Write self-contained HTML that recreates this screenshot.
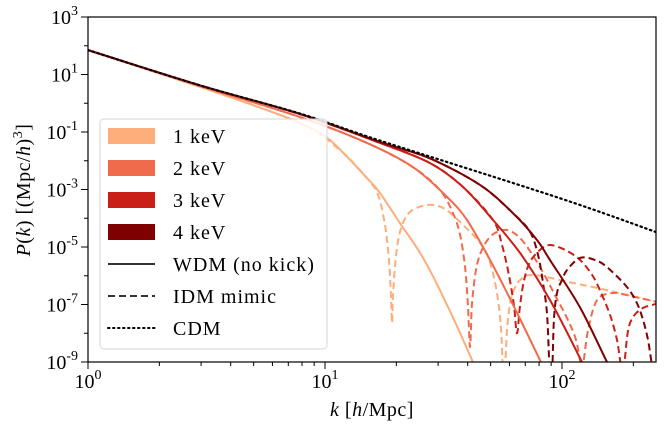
<!DOCTYPE html>
<html><head><meta charset="utf-8">
<style>
html,body{margin:0;padding:0;background:#fff;}
svg{display:block;font-family:"Liberation Serif",serif;}
</style></head>
<body>
<svg id="chart" width="665" height="429" viewBox="0 0 665 429">
<defs><clipPath id="plotclip"><rect x="88" y="17" width="568" height="345"/></clipPath></defs>
<g id="series" clip-path="url(#plotclip)"></g>
<rect x="88" y="17" width="568" height="345" fill="none" stroke="#000" stroke-width="1.2"/>
<g id="axes"></g>
<text x="372" y="416" text-anchor="middle" font-size="20" letter-spacing="0.5"><tspan font-style="italic">k</tspan> [<tspan font-style="italic">h</tspan>/Mpc]</text>
<text transform="translate(30,190) rotate(-90)" text-anchor="middle" font-size="20" letter-spacing="0.5"><tspan font-style="italic">P</tspan>(<tspan font-style="italic">k</tspan>) [(Mpc/<tspan font-style="italic">h</tspan>)<tspan font-size="14" dy="-8">3</tspan><tspan dy="8">]</tspan></text>
<g id="legend">
<rect x="100" y="119" width="227" height="230" rx="4" fill="#fff" fill-opacity="0.85" stroke="#d6d6d6" stroke-width="1"/>
</g>
</svg>
<script>
// data in log10 units: logK (h/Mpc), logP
const cdmK=[0,0.473,0.895,1.232,1.99,2.397];
const cdmP=[1.85,0.62,-0.36,-1.30,-3.30,-4.48];
const w1K=[0,0.473,0.684,0.895,1.021,1.177,1.232,1.316,1.414,1.52,1.624,1.7];
const w1P=[1.85,0.57,-0.03,-0.69,-1.28,-2.60,-3.12,-4.17,-5.38,-7.1,-9.0,-10.5];
const w2K=[0,0.473,0.895,1.177,1.371,1.515,1.599,1.696,1.793,1.911,2.0];
const w2P=[1.85,0.60,-0.48,-1.38,-2.22,-3.26,-4.06,-5.45,-7.0,-9.0,-10.5];
const w3K=[0,0.473,0.895,1.232,1.443,1.582,1.709,1.823,1.95,2.084,2.15];
const w3P=[1.85,0.62,-0.38,-1.38,-2.08,-2.91,-4.06,-5.21,-6.85,-9.0,-10.2];
const w4K=[0,0.473,0.895,1.232,1.443,1.654,1.793,1.895,1.949,2.076,2.19,2.25];
const w4P=[1.85,0.62,-0.37,-1.35,-1.92,-2.84,-3.82,-4.76,-5.45,-7.1,-9.0,-9.9];
const i1K=[0,0.473,0.895,1.063,1.177,1.224,1.253,1.270,1.278,1.283,1.287,1.300,1.321,1.359,1.430,1.498,1.570,1.667,1.705,1.730,1.743,1.751,1.759,1.768,1.781,1.797,1.823,1.878,2.046,2.190,2.397];
const i1P=[1.85,0.57,-0.69,-1.63,-2.60,-3.19,-4.23,-5.45,-6.67,-7.64,-6.67,-5.28,-4.34,-3.78,-3.54,-3.64,-4.13,-5.00,-5.80,-6.84,-7.89,-9.28,-9.28,-7.89,-6.95,-6.50,-6.15,-5.97,-6.25,-6.50,-6.91];
const i2K=[0,0.473,0.895,1.177,1.371,1.485,1.540,1.570,1.591,1.603,1.612,1.620,1.637,1.662,1.705,1.768,1.831,1.907,1.970,2.025,2.059,2.080,2.089,2.110,2.148,2.215,2.287,2.401];
const i2P=[1.85,0.60,-0.48,-1.38,-2.22,-3.02,-3.82,-4.58,-5.70,-7.02,-8.48,-7.02,-5.80,-5.10,-4.58,-4.41,-4.76,-5.70,-6.67,-7.54,-8.23,-9.1,-9.1,-7.89,-6.84,-6.60,-6.70,-6.91];
const i3K=[0,0.473,0.895,1.232,1.443,1.582,1.709,1.747,1.776,1.797,1.810,1.823,1.840,1.865,1.907,1.949,2.013,2.076,2.127,2.160,2.203,2.232,2.249,2.262,2.278,2.300,2.342,2.397];
const i3P=[1.85,0.62,-0.38,-1.38,-2.08,-2.91,-4.06,-4.93,-5.97,-7.02,-8.0,-7.02,-6.15,-5.52,-5.10,-4.93,-5.10,-5.45,-5.97,-6.50,-7.37,-8.23,-9.1,-9.1,-7.94,-7.43,-7.12,-6.98];
const i4K=[0,0.473,0.895,1.232,1.443,1.654,1.793,1.865,1.899,1.920,1.937,1.949,1.958,1.966,1.979,2.0,2.021,2.076,2.139,2.190,2.274,2.316,2.342,2.363,2.380,2.392];
const i4P=[1.85,0.62,-0.37,-1.35,-1.92,-2.84,-3.82,-4.47,-5.28,-6.25,-7.37,-9.5,-9.5,-7.54,-6.60,-6.15,-5.80,-5.38,-5.45,-5.70,-6.39,-6.95,-7.54,-8.23,-9.1,-9.1];
const xTickExp=[0,1,2];
const yTickExp=[3,1,-1,-3,-5,-7,-9];
const legendLabels=["1 keV","2 keV","3 keV","4 keV"];
const colors=["#fdae7b","#f06b4c","#c91f17","#7f0000"];

const X=lk=>88+237*lk;
const Y=lp=>362-28.75*(lp+9);
const NS="http://www.w3.org/2000/svg";
const series=document.getElementById('series');
const axes=document.getElementById('axes');
const legend=document.getElementById('legend');

function mk(tag,attrs,parent){const e=document.createElementNS(NS,tag);for(const k in attrs)e.setAttribute(k,attrs[k]);parent.appendChild(e);return e;}
function smoothPath(pts){
  let d='M'+pts[0][0].toFixed(1)+','+pts[0][1].toFixed(1);
  for(let i=0;i<pts.length-1;i++){
    const p0=pts[i-1]||pts[i],p1=pts[i],p2=pts[i+1],p3=pts[i+2]||p2;
    const t=0.16;
    const c1=[p1[0]+(p2[0]-p0[0])*t,p1[1]+(p2[1]-p0[1])*t];
    const c2=[p2[0]-(p3[0]-p1[0])*t,p2[1]-(p3[1]-p1[1])*t];
    d+=' C'+c1[0].toFixed(1)+','+c1[1].toFixed(1)+' '+c2[0].toFixed(1)+','+c2[1].toFixed(1)+' '+p2[0].toFixed(1)+','+p2[1].toFixed(1);
  }
  return d;
}
function line(ks,ps,color,dash,name){
  const pts=ks.map((k,i)=>[X(k),Y(ps[i])]);
  const p=mk('path',{d:smoothPath(pts),fill:'none',stroke:color,'stroke-width':dash==='dot'?2.2:2,'stroke-linejoin':'round'},series);
  if(dash==='dash')p.setAttribute('stroke-dasharray','7,4');
  if(dash==='dot'){p.setAttribute('stroke-dasharray','1.5,3.5');p.setAttribute('stroke-linecap','round');}
  
  
}
const WK=[w1K,w2K,w3K,w4K],WP=[w1P,w2P,w3P,w4P],IK=[i1K,i2K,i3K,i4K],IP=[i1P,i2P,i3P,i4P];
for(let i=0;i<4;i++){line(IK[i],IP[i],colors[i],'dash','idm-'+(i+1)+'kev-line');}
for(let i=0;i<4;i++){line(WK[i],WP[i],colors[i],null,'wdm-'+(i+1)+'kev-line');}
line(cdmK,cdmP,'#000','dot','cdm-line');

// x ticks
for(let d=0;d<3;d++){
  for(let m=1;m<10;m++){
    const lk=d+Math.log10(m); if(lk>2.397)break;
    const x=X(lk); const major=m===1;
    const t=mk('line',{x1:x,x2:x,y1:362,y2:362+(major?7:4),stroke:'#000','stroke-width':1},axes);
    
    
  }
}
xTickExp.forEach(e=>{
  const t=mk('text',{x:X(e),y:388,'text-anchor':'middle','font-size':20},axes);
  t.innerHTML='10<tspan font-size="14" dy="-9">'+e+'</tspan>';
  
  
});
for(let e=-9;e<=3;e++){
  const y=Y(e);
  const t=mk('line',{x1:88,x2:88-(e%2!==0?7:4),y1:y,y2:y,stroke:'#000','stroke-width':1},axes);
  
  
}
yTickExp.forEach(e=>{
  const t=mk('text',{x:78,y:Y(e)+7,'text-anchor':'end','font-size':20},axes);
  t.innerHTML='10<tspan font-size="14" dy="-9">'+e+'</tspan>';
  
  
});

// legend
legendLabels.forEach((lab,i)=>{
  const cy=136+i*32;
  const r=mk('rect',{x:108,y:cy-8,width:47,height:16,fill:colors[i]},legend);
  
  
  const t=mk('text',{x:173,y:cy+7,'font-size':20,'letter-spacing':1},legend);
  t.textContent=lab;
  
  
});
[["WDM (no kick)",null],["IDM mimic","7,4"],["CDM","1.5,3.5"]].forEach((it,j)=>{
  const cy=264+j*32;
  const l=mk('line',{x1:108,x2:155,y1:cy,y2:cy,stroke:j===2?'#000':'#333','stroke-width':2},legend);
  if(it[1])l.setAttribute('stroke-dasharray',it[1]);
  if(j===2)l.setAttribute('stroke-linecap','round');
  
  
  const t=mk('text',{x:173,y:cy+7,'font-size':20,'letter-spacing':1},legend);
  t.textContent=it[0];
  
  
});
</script>
</body></html>
